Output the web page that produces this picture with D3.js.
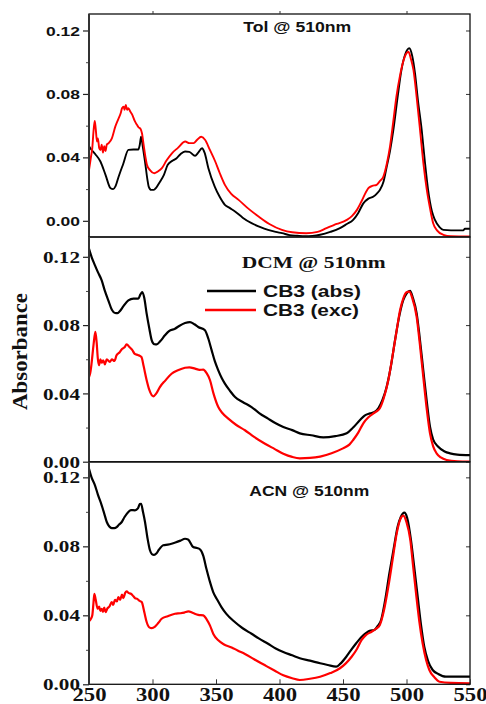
<!DOCTYPE html>
<html>
<head>
<meta charset="utf-8">
<script src="https://cdn.jsdelivr.net/npm/d3@7"></script>
<style>
html,body{margin:0;padding:0;background:#fff;}
svg{display:block;}
</style>
</head>
<body>
<svg id="chart" width="486" height="704"></svg>
<script>
// ---------- DATA ----------
const xTicks = [250, 300, 350, 400, 450, 500, 550];
const yTicks = [0.00, 0.04, 0.08, 0.12];
const yMinorTicks = [0.02, 0.06, 0.10];
const panelTitles = ["Tol @ 510nm", "DCM @ 510nm", "ACN @ 510nm"];
const legendLabels = ["CB3 (abs)", "CB3 (exc)"];

const tolAbs = [[250,0.047],[251,0.0458],[255,0.042],[259,0.0374],[263,0.029],[267,0.0205],[269,0.020],[271,0.022],[273,0.027],[277,0.036],[281,0.0447],[285,0.045],[288.8,0.045],[290,0.048],[291,0.053],[292.5,0.046],[294,0.038],[296,0.026],[297,0.0216],[299,0.0195],[301,0.0195],[303,0.021],[306,0.0248],[309,0.029],[312,0.0353],[316,0.038],[319,0.0395],[322,0.042],[325.6,0.0437],[329,0.0435],[333.5,0.041],[336,0.043],[339,0.0458],[341,0.043],[344,0.0332],[349,0.0216],[353,0.015],[357,0.0101],[361,0.008],[365,0.0059],[371,0.002],[378,-0.0015],[385,-0.004],[391,-0.0057],[397,-0.007],[402,-0.0078],[408,-0.009],[414,-0.0094],[420,-0.0097],[426,-0.0095],[432,-0.0088],[440,-0.007],[447.6,-0.0046],[453,-0.002],[458,0.0006],[462,0.005],[466,0.011],[470,0.014],[474,0.0153],[477,0.0175],[479,0.0195],[482,0.025],[484.4,0.034],[487,0.044],[489.6,0.057],[493,0.078],[496,0.095],[499,0.105],[502.2,0.1088],[504.5,0.104],[506.7,0.093],[509,0.076],[512,0.057],[514.5,0.037],[517,0.0195],[520,0.006],[522.4,0.0006],[526,-0.004],[529,-0.0057],[535,-0.006],[544.7,-0.006],[546,-0.005],[550,-0.005]];

const tolExc = [[250,0.032],[251.5,0.040],[252.6,0.046],[253.5,0.056],[254.5,0.063],[255.3,0.058],[256.3,0.050],[257,0.052],[258,0.046],[259,0.0447],[260,0.048],[261,0.043],[262,0.047],[263,0.044],[264,0.048],[265.5,0.049],[268,0.052],[270.7,0.0594],[273,0.064],[275,0.068],[276,0.071],[277.3,0.072],[278,0.070],[279,0.073],[280,0.070],[281,0.071],[282.5,0.0689],[284,0.067],[286,0.063],[287.8,0.0605],[289,0.059],[290.5,0.058],[291.7,0.0552],[293,0.048],[294.5,0.040],[295.6,0.0353],[298,0.032],[301.4,0.030],[304,0.031],[307.4,0.0332],[311,0.038],[315.3,0.0426],[320,0.046],[325.8,0.050],[329,0.049],[332.4,0.049],[335,0.051],[338.4,0.053],[341.5,0.051],[345,0.045],[349.4,0.0374],[353,0.030],[357,0.0227],[362,0.017],[367.8,0.0132],[375,0.008],[383.5,0.0027],[392,-0.002],[401.9,-0.0057],[410,-0.0072],[421,-0.0078],[430,-0.007],[437,-0.0046],[445,-0.002],[453,0.0006],[457,0.003],[461,0.0069],[465,0.013],[468,0.018],[470,0.0206],[473,0.022],[476.5,0.0227],[479,0.025],[481.8,0.0279],[484.5,0.036],[487,0.0468],[489.5,0.062],[492,0.078],[495,0.092],[497.6,0.101],[499.5,0.105],[501.5,0.1066],[503.5,0.102],[505.5,0.095],[508,0.078],[510.7,0.057],[513.5,0.035],[516,0.0195],[518.5,0.008],[521,-0.0015],[524,-0.006],[529,-0.0088],[535,-0.0097],[550,-0.0099]];

const dcmAbs = [[250,0.1247],[252,0.120],[254.7,0.115],[257,0.111],[260,0.1062],[262.5,0.100],[265.2,0.0945],[268,0.089],[270.5,0.0871],[272.5,0.087],[274.4,0.0883],[277,0.091],[281,0.0945],[285,0.0955],[288.8,0.0955],[290.5,0.098],[292,0.0994],[293.5,0.096],[295.4,0.0867],[297.5,0.078],[299.4,0.0711],[301.5,0.0688],[303.3,0.0687],[306,0.0705],[309.8,0.074],[313,0.0765],[317.7,0.0779],[321,0.0795],[325.6,0.0812],[329.5,0.0818],[333,0.0805],[336,0.0789],[341.3,0.077],[344,0.072],[346.6,0.0652],[349,0.059],[351.8,0.0535],[354.5,0.049],[357,0.0457],[361,0.0415],[365,0.0379],[371,0.035],[378,0.032],[384,0.0285],[391,0.0252],[397,0.0225],[403,0.0203],[410,0.0185],[416,0.0166],[425,0.0155],[434.5,0.0143],[444,0.015],[452.9,0.0166],[458,0.020],[463.4,0.0244],[467,0.027],[471.3,0.0283],[474.5,0.029],[477.8,0.0313],[481,0.036],[484.4,0.0439],[487.5,0.055],[491,0.0713],[494.5,0.086],[497.5,0.0947],[500,0.0985],[502.8,0.1001],[505,0.096],[508,0.0869],[510.5,0.072],[513.2,0.0537],[516,0.035],[518.5,0.0205],[521,0.013],[525,0.0088],[530,0.006],[534.3,0.0049],[540,0.0042],[550,0.0039]];

const dcmExc = [[250,0.0496],[251,0.052],[252,0.0574],[253.5,0.068],[255,0.076],[256,0.070],[257,0.060],[257.8,0.0565],[259,0.060],[260,0.058],[261.2,0.0594],[262.5,0.057],[264,0.060],[266.4,0.0584],[268,0.060],[270,0.059],[271.7,0.0623],[274,0.064],[276,0.066],[278,0.067],[279.6,0.0687],[282,0.067],[284,0.0655],[286,0.0632],[288.5,0.0625],[291.3,0.0613],[293,0.056],[295.4,0.0477],[297.5,0.042],[300.6,0.0383],[303,0.040],[305.8,0.0437],[310,0.0475],[315,0.0515],[320,0.0535],[325.6,0.055],[329,0.0553],[333.5,0.0545],[337,0.0538],[340,0.0539],[342.5,0.052],[345.3,0.0477],[348,0.040],[351.8,0.032],[355,0.0285],[359.7,0.0252],[366,0.0215],[372.8,0.0184],[380,0.0145],[388.6,0.0105],[396,0.0075],[403,0.0047],[410,0.0028],[416,0.002],[424,0.0022],[432,0.003],[441,0.005],[450,0.0078],[455,0.010],[458,0.0127],[462,0.017],[466,0.0225],[470,0.026],[474,0.0283],[476.5,0.0295],[479,0.0313],[482,0.037],[485.7,0.0478],[489,0.062],[492.3,0.0771],[495,0.089],[497.5,0.0957],[500,0.0992],[502.2,0.0996],[504.5,0.096],[508,0.0849],[510.5,0.069],[513.2,0.0498],[516,0.0305],[518.5,0.0166],[521,0.009],[523.7,0.0049],[527,0.0025],[531.6,0.001],[540,0.0002],[550,0.0]];

const acnAbs = [[250,0.125],[252,0.120],[254.7,0.1154],[257,0.110],[260,0.1038],[262,0.099],[264,0.0941],[266,0.0915],[267.9,0.0906],[270,0.0906],[271.8,0.0912],[273.5,0.0925],[275.8,0.0941],[278,0.097],[281,0.0999],[283,0.101],[286.2,0.1009],[288.5,0.102],[290,0.1045],[291,0.1047],[292.5,0.100],[294.1,0.0941],[296,0.085],[298,0.0777],[299.5,0.0755],[301.2,0.0751],[303,0.0758],[305,0.078],[308.5,0.0806],[312,0.081],[315,0.0815],[318,0.0822],[322,0.0833],[325.6,0.0844],[328,0.084],[332,0.0796],[335,0.079],[337.3,0.0783],[340,0.0745],[342.5,0.0668],[345,0.060],[347.8,0.0535],[351,0.049],[354.3,0.0448],[358,0.041],[364.8,0.0361],[371,0.0325],[378,0.0293],[384,0.0265],[391,0.0235],[397,0.0208],[403,0.0187],[410,0.0168],[416,0.0151],[424,0.0137],[432,0.0122],[438,0.0112],[444.6,0.0102],[448,0.012],[452.6,0.016],[456,0.0195],[460.4,0.0238],[464,0.027],[468,0.0296],[471,0.031],[474.7,0.0315],[477.5,0.034],[480,0.0373],[483,0.048],[486.5,0.0643],[490,0.079],[493,0.0914],[495.5,0.097],[498.3,0.0995],[500.5,0.0965],[503.5,0.0837],[506,0.0685],[508.8,0.0508],[511.5,0.034],[514,0.0218],[517,0.0135],[520.6,0.0083],[525,0.006],[531,0.0044],[550,0.0044]];

const acnExc = [[250,0.0365],[251.5,0.038],[252.6,0.040],[253.5,0.047],[254.2,0.0525],[255.3,0.049],[256.8,0.0438],[258,0.045],[259,0.0425],[260,0.0438],[261,0.042],[262,0.0445],[263.1,0.0419],[264.5,0.044],[266,0.045],[267.9,0.0477],[269,0.046],[270.5,0.049],[272,0.048],[273.1,0.0506],[274.5,0.049],[276,0.052],[277,0.050],[278.5,0.053],[279.7,0.0539],[281,0.053],[283,0.0525],[285,0.051],[286.2,0.050],[288,0.0495],[289.5,0.0485],[291.5,0.0477],[293.5,0.042],[295.4,0.0361],[297.5,0.033],[299.4,0.0326],[302,0.0335],[304.5,0.0355],[307.2,0.038],[312,0.0395],[317.7,0.0409],[322,0.0412],[325,0.0416],[328.2,0.0423],[332,0.0413],[336,0.0403],[340,0.040],[342.5,0.0378],[345.3,0.034],[348,0.029],[351.8,0.0255],[356,0.0232],[362.3,0.0214],[367,0.0196],[372.8,0.0176],[380,0.0145],[388.6,0.011],[396,0.008],[403,0.0052],[410,0.0035],[416,0.0025],[424,0.0032],[432,0.0044],[440,0.0065],[447.6,0.0093],[452,0.012],[456.8,0.016],[461,0.0205],[464.7,0.0257],[468,0.0285],[472.6,0.0305],[476,0.0322],[479,0.0344],[482,0.042],[485.7,0.0566],[489,0.072],[492.3,0.0875],[495,0.0955],[497.5,0.0978],[500,0.094],[503,0.0837],[505,0.070],[507.5,0.0528],[510,0.037],[512.7,0.0238],[515.5,0.014],[518,0.0083],[522,0.004],[526,0.0015],[535,0.0008],[550,0.0006]];

// ---------- LAYOUT ----------
const svg = d3.select("#chart");
const left = 89, right = 470;
const x = d3.scaleLinear().domain([250, 550]).range([left, right]);

const panels = [
  {top: 14, bottom: 237, domain: [-0.0102, 0.1304], abs: tolAbs, exc: tolExc, lw: 1.9,
   labelFont: "'Liberation Sans', Arial, sans-serif", labelSize: 13, labelW: 34},
  {top: 237, bottom: 461.7, domain: [0, 0.1316], abs: dcmAbs, exc: dcmExc, lw: 2.2,
   labelFont: "'Liberation Serif', 'Times New Roman', serif", labelSize: 16, labelW: 37},
  {top: 462, bottom: 684.3, domain: [0, 0.1289], abs: acnAbs, exc: acnExc, lw: 2.2,
   labelFont: "'Liberation Serif', 'Times New Roman', serif", labelSize: 16, labelW: 37}
];

panels.forEach((p, i) => {
  const y = d3.scaleLinear().domain(p.domain).range([p.bottom, p.top]);
  const g = svg.append("g");

  const clipId = "clip" + i;
  svg.append("clipPath").attr("id", clipId)
    .append("rect").attr("x", left).attr("y", p.top)
    .attr("width", right - left).attr("height", p.bottom - p.top);

  const line = d3.line().x(d => x(d[0])).y(d => y(d[1])).curve(d3.curveMonotoneX);

  g.append("path").datum(p.abs).attr("d", line)
    .attr("clip-path", `url(#${clipId})`)
    .attr("fill", "none").attr("stroke", "#000").attr("stroke-width", p.lw)
    .attr("stroke-linejoin", "round");
  g.append("path").datum(p.exc).attr("d", line)
    .attr("clip-path", `url(#${clipId})`)
    .attr("fill", "none").attr("stroke", "#ff0000").attr("stroke-width", p.lw)
    .attr("stroke-linejoin", "round");

  // left axis major
  const ax = g.append("g").attr("transform", `translate(${left},0)`)
    .call(d3.axisLeft(y).tickValues(yTicks).tickSize(6).tickPadding(3)
      .tickFormat(d3.format(".2f")));
  ax.select(".domain").remove();
  ax.selectAll("line").attr("stroke", "#222").attr("stroke-width", 1.2);
  ax.selectAll("text")
    .attr("font-family", p.labelFont).attr("font-size", p.labelSize)
    .attr("font-weight", "bold").attr("fill", "#111")
    .attr("x", -9).attr("dy", "0.35em")
    .attr("textLength", p.labelW).attr("lengthAdjust", "spacingAndGlyphs");
  // minor ticks
  const mn = g.append("g").attr("transform", `translate(${left},0)`)
    .call(d3.axisLeft(y).tickValues(yMinorTicks).tickSize(3).tickFormat(""));
  mn.select(".domain").remove();
  mn.selectAll("line").attr("stroke", "#444").attr("stroke-width", 1);
  // right inward ticks
  const ar = g.append("g").attr("transform", `translate(${right},0)`)
    .call(d3.axisRight(y).tickValues(yTicks).tickSize(-4).tickFormat(""));
  ar.select(".domain").remove();
  ar.selectAll("line").attr("stroke", "#333").attr("stroke-width", 1);

  // frame
  g.append("rect").attr("x", left).attr("y", p.top)
    .attr("width", right - left).attr("height", p.bottom - p.top)
    .attr("fill", "none").attr("stroke", "#111").attr("stroke-width", 1.3);
  g.append("line").attr("x1", left).attr("x2", left)
    .attr("y1", p.top).attr("y2", p.bottom)
    .attr("stroke", "#333").attr("stroke-width", 2);

  if (i === 0) {
    const at = g.append("g").attr("transform", `translate(0,${p.top})`)
      .call(d3.axisTop(x).tickValues([300, 400, 500]).tickSize(3).tickFormat(""));
    at.select(".domain").remove();
    at.selectAll("line").attr("stroke", "#333");
  }
  if (i === 2) {
    const ab = g.append("g").attr("transform", `translate(0,${p.bottom})`)
      .call(d3.axisBottom(x).tickValues(xTicks).tickSizeInner(-5).tickSizeOuter(0).tickPadding(3.5)
        .tickFormat(d3.format("d")));
    ab.select(".domain").remove();
    ab.selectAll("line").attr("stroke", "#333").attr("stroke-width", 1);
    ab.selectAll("text")
      .attr("font-family", "'Liberation Serif', 'Times New Roman', serif")
      .attr("font-size", 19).attr("font-weight", "bold").attr("fill", "#111")
      .attr("textLength", 34).attr("lengthAdjust", "spacingAndGlyphs");
  }
});

// panel titles
const sans = "'Liberation Sans', Arial, sans-serif";
const serif = "'Liberation Serif', 'Times New Roman', serif";
const titleSpecs = [
  {x: 243.3, y: 32.3, font: sans, size: 15, w: 108},
  {x: 241.7, y: 268.3, font: serif, size: 17.5, w: 144},
  {x: 249.3, y: 496, font: sans, size: 14.4, w: 120}
];
titleSpecs.forEach((t, i) => {
  svg.append("text").attr("x", t.x).attr("y", t.y)
    .attr("font-family", t.font).attr("font-size", t.size).attr("font-weight", "bold")
    .attr("fill", "#111")
    .attr("textLength", t.w).attr("lengthAdjust", "spacingAndGlyphs")
    .text(panelTitles[i]);
});

// legend
const legendSpecs = [
  {color: "#000", x1: 207, x2: 256, ly: 291, ty: 297, w: 98},
  {color: "#ff0000", x1: 205, x2: 256, ly: 310, ty: 316, w: 96}
];
legendSpecs.forEach((l, i) => {
  svg.append("line").attr("x1", l.x1).attr("x2", l.x2).attr("y1", l.ly).attr("y2", l.ly)
    .attr("stroke", l.color).attr("stroke-width", 2.4);
  svg.append("text").attr("x", 263).attr("y", l.ty)
    .attr("font-family", sans).attr("font-size", 16.3).attr("font-weight", "bold")
    .attr("fill", "#111")
    .attr("textLength", l.w).attr("lengthAdjust", "spacingAndGlyphs")
    .text(legendLabels[i]);
});

// y-axis title
svg.append("text")
  .attr("transform", "translate(27,351.5) rotate(-90)")
  .attr("text-anchor", "middle")
  .attr("font-family", serif).attr("font-size", 20).attr("font-weight", "bold")
  .attr("fill", "#111")
  .attr("textLength", 117).attr("lengthAdjust", "spacingAndGlyphs")
  .text("Absorbance");
</script>
</body>
</html>
